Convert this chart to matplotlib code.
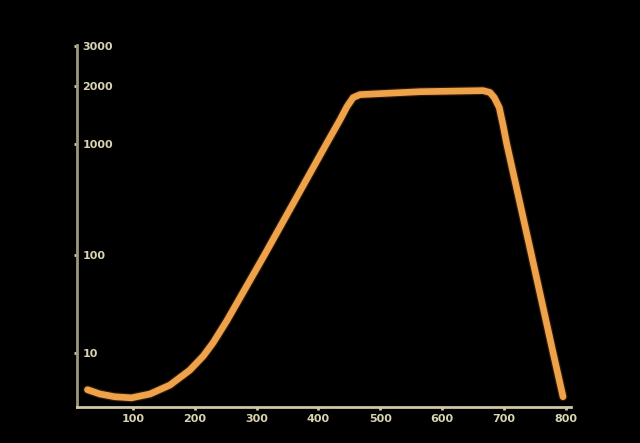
"""
Orange curve on a black background with an uneven,
hand-spaced value axis (10, 100, 1000, 2000, 3000).
"""

import numpy as np
import matplotlib.pyplot as plt
from matplotlib.scale import FuncScale

# curve
xs = [27, 47, 71, 98, 128, 160, 192, 214, 230, 252, 313, 413, 435, 446, 456, 467,
      564, 666, 677, 684, 692, 698, 704, 744, 779, 795]
ys = [4.2, 3.8, 3.56, 3.47, 3.8, 4.68, 6.63, 9.27, 12.7, 21.2, 100, 1000, 1333, 1556, 1734, 1796,
      1860, 1884, 1842, 1734, 1540, 1255, 1000, 100, 10, 3.56]

xticks = [100, 200, 300, 400, 500, 600, 700, 800]
yticks = [10, 100, 1000, 2000, 3000]

# the value axis is not a true log axis: tick heights are spaced by hand
anchor_vals = [1, 10, 100, 1000, 2000, 3000, 10000]
anchor_pos = [-44, 54, 152, 263, 321, 361, 461]


def fwd(v):
    v = np.clip(np.asarray(v, dtype=float), 1e-3, None)
    return np.interp(np.log10(v), np.log10(anchor_vals), anchor_pos)


def inv(p):
    return 10 ** np.interp(p, anchor_pos, np.log10(anchor_vals))


if __name__ == "__main__":

    axis_col = "#cfc8a8"
    label_col = "#d9d3b4"
    line_col = "#eea24a"

    fig = plt.figure(figsize=(6.4, 4.43), dpi=100, facecolor="black")
    ax = fig.add_axes([0.1203, 0.0813, 0.772, 0.817], facecolor="black")

    ax.set_yscale(FuncScale(ax.yaxis, (fwd, inv)))

    # soft glow then the line itself
    ax.plot(xs, ys, color="#a0561e", lw=6.5, alpha=0.3,
            solid_capstyle="round", solid_joinstyle="round")
    ax.plot(xs, ys, color=line_col, lw=4.8,
            solid_capstyle="round", solid_joinstyle="round")

    ax.set_xlim(10, 808)
    ax.set_ylim(2.8, 3020)

    for side in ["top", "right"]:
        ax.spines[side].set_visible(False)
    ax.spines["left"].set_color("#9c987c")
    ax.spines["bottom"].set_color(axis_col)
    ax.spines["left"].set_linewidth(2)
    ax.spines["bottom"].set_linewidth(2)

    ax.set_xticks(xticks)
    ax.set_xticklabels([str(t) for t in xticks])
    ax.set_yticks(yticks)
    ax.set_yticklabels([str(t) for t in yticks])
    ax.minorticks_off()

    ax.tick_params(axis="x", length=2, width=2, color=axis_col,
                   labelcolor=label_col, labelsize=8, pad=3)
    ax.tick_params(axis="y", length=2, width=2, color=axis_col,
                   labelcolor=label_col, labelsize=8, pad=-6)
    for lab in ax.get_xticklabels() + ax.get_yticklabels():
        lab.set_fontweight("bold")
    for lab in ax.get_yticklabels():
        lab.set_horizontalalignment("left")

    fig.savefig("out.png", dpi=100, facecolor="black")
